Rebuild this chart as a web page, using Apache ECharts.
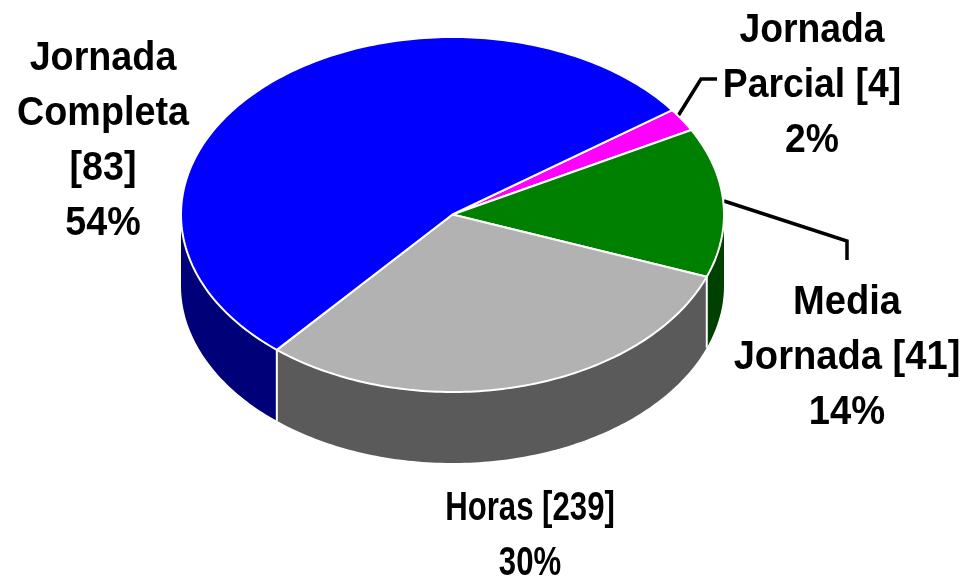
<!DOCTYPE html>
<html>
<head>
<meta charset="utf-8">
<style>
  html, body { margin: 0; padding: 0; background: #fff; }
  #chart { width: 965px; height: 576px; }
</style>
<script src="https://cdn.jsdelivr.net/npm/echarts@6/dist/echarts.min.js"></script>
</head>
<body>
<div id="chart"></div>
<script>
// clockwise from the start angle
const names = ["Jornada\nParcial ", "Media\nJornada ", "Horas ", "Jornada\nCompleta\n"];
const counts = [4, 41, 239, 83];
const shares = [2, 14, 30, 54];
// slice sizes as measured on the picture, the labels above are rounded
const sliceSizes = [2.1, 13.6, 30.5, 53.8];
const topColors = ["#ff00ff", "#008000", "#b2b2b2", "#0000ff"];
const wallColors = ["#800080", "#004000", "#5a5a5a", "#000078"];

const cx = 452.5, cy = 214.5, rx = 271.5, ry = 177.5, depth = 71;
const startAngle = 36;

const total = sliceSizes.reduce((a, b) => a + b, 0);

function sliceRange(index) {
  let before = 0;
  for (let i = 0; i < index; i++) before += sliceSizes[i];
  // math angle, going clockwise on screen
  return [startAngle - before / total * 360, startAngle - (before + sliceSizes[index]) / total * 360];
}

function arcPoints(from, to, dy) {
  const pts = [];
  const steps = Math.max(2, Math.ceil(Math.abs(to - from)));
  for (let i = 0; i <= steps; i++) {
    const a = (from + (to - from) * i / steps) * Math.PI / 180;
    pts.push([cx + rx * Math.cos(a), cy - ry * Math.sin(a) + dy]);
  }
  return pts;
}

function renderTop(params) {
  const r = sliceRange(params.dataIndex);
  return {
    type: "polygon",
    shape: { points: [[cx, cy]].concat(arcPoints(r[0], r[1], 0)) },
    style: { fill: topColors[params.dataIndex], stroke: "#fff", lineWidth: 2, lineJoin: "round" },
  };
}

function renderWall(params) {
  const r = sliceRange(params.dataIndex);
  // only the front half of the rim is visible: -180..0 in math angle
  const to = Math.max(r[1], -180);
  const from = Math.min(r[0], 0);
  if (to >= from) return { type: "group", children: [] };
  const front = arcPoints(from, to, 0);
  const back = arcPoints(to, from, depth);
  const children = [{
    type: "polygon",
    shape: { points: front.concat(back) },
    style: { fill: wallColors[params.dataIndex] },
  }];
  // white seam where a slice boundary comes down the rim
  if (r[1] > -180) {
    const a = r[1] * Math.PI / 180;
    const x = cx + rx * Math.cos(a), y = cy - ry * Math.sin(a);
    children.push({
      type: "line",
      z2: 5,
      shape: { x1: x, y1: y, x2: x, y2: y + depth },
      style: { stroke: "#fff", lineWidth: 2 },
    });
  }
  return { type: "group", children };
}

function labelText(i) {
  return names[i] + "[" + counts[i] + "]\n" + shares[i] + "%";
}

function label(i, x, y, sx) {
  return {
    type: "text",
    x: x,
    y: y,
    scaleX: sx,
    style: {
      text: labelText(i),
      fontFamily: "Liberation Sans",
      fontWeight: "bold",
      fontSize: 41,
      lineHeight: 55,
      fill: "#000",
      align: "center",
      verticalAlign: "top",
    },
  };
}

function leader(points) {
  return {
    type: "polyline",
    shape: { points: points },
    style: { fill: "none", stroke: "#000", lineWidth: 3.5 },
  };
}

const chart = echarts.init(document.getElementById("chart"), null, { renderer: "canvas" });
chart.setOption({
  animation: false,
  backgroundColor: "#fff",
  series: [
    {
      type: "custom",
      coordinateSystem: "none",
      silent: true,
      z: 1,
      data: shares,
      renderItem: renderWall,
    },
    {
      type: "custom",
      coordinateSystem: "none",
      silent: true,
      z: 2,
      data: shares,
      renderItem: renderTop,
    },
  ],
  graphic: [
    label(3, 103, 31, 0.92),
    label(0, 812, 3, 0.91),
    label(1, 847, 275, 0.93),
    label(2, 530, 481, 0.76),
    leader([[678, 116], [701, 79], [717, 79]]),
    leader([[724, 201], [847, 241], [847, 260]]),
  ],
});
</script>
</body>
</html>
